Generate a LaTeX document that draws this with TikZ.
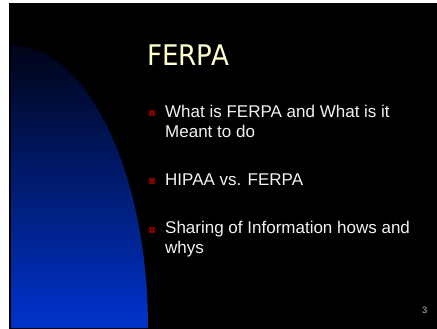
\documentclass[tikz,border=0pt]{standalone}
\usepackage{fontspec}
\setmainfont{Liberation Sans}
\newfontfamily\titlefont[FakeStretch=0.92]{DejaVu Sans}
\usetikzlibrary{positioning}
\definecolor{slidetitle}{RGB}{255,255,204}
\definecolor{bulletred}{RGB}{128,0,0}
\definecolor{paneltop}{RGB}{0,4,24}
\definecolor{panelblue}{RGB}{0,51,204}
\definecolor{bodytext}{RGB}{242,242,242}
\definecolor{pagegray}{RGB}{190,190,190}

\begin{document}
\begin{tikzpicture}[x=1pt, y=-1pt,
    bullet-box/.style={rectangle, fill=bulletred, inner sep=0pt, minimum size=6pt},
    item-text/.style={anchor=base west, inner sep=0pt, align=left, text=bodytext,
                font=\fontsize{17}{20.3}\selectfont}]
    \useasboundingbox (0,0) rectangle (437,329);
    \fill[white] (0,0) rectangle (437,329);
    \fill[black] (9,3) rectangle (437,329);
    % blue panel on the left
    \shade[top color=paneltop, bottom color=panelblue] (11,328) -- (11,45)
        arc[start angle=90, end angle=0, x radius=137pt, y radius=283pt] -- cycle;
    \node [anchor=base west, inner sep=0pt, text=slidetitle,
        font=\titlefont\fontsize{28.4}{30}\selectfont] (title) at (147,65.7) {FERPA};
    \node [bullet-box] (dot1) at (152.3,113) {};
    \node [bullet-box] (dot2) at (152.3,181) {};
    \node [bullet-box] (dot3) at (152.3,229.5) {};
    % base anchor sits on the last line
    \node [item-text] (what) at (165,137.3) {What is FERPA and What is it\\ Meant to do};
    \node [item-text] (hipaa) at (165,185) {HIPAA vs. FERPA};
    \node [item-text] (share) at (165,253.3) {Sharing of Information hows and\\ whys};
    \node [anchor=base east, inner sep=0pt, text=pagegray,
        font=\fontsize{9.3}{10}\selectfont] (page) at (427.5,313.3) {3};
\end{tikzpicture}
\end{document}
